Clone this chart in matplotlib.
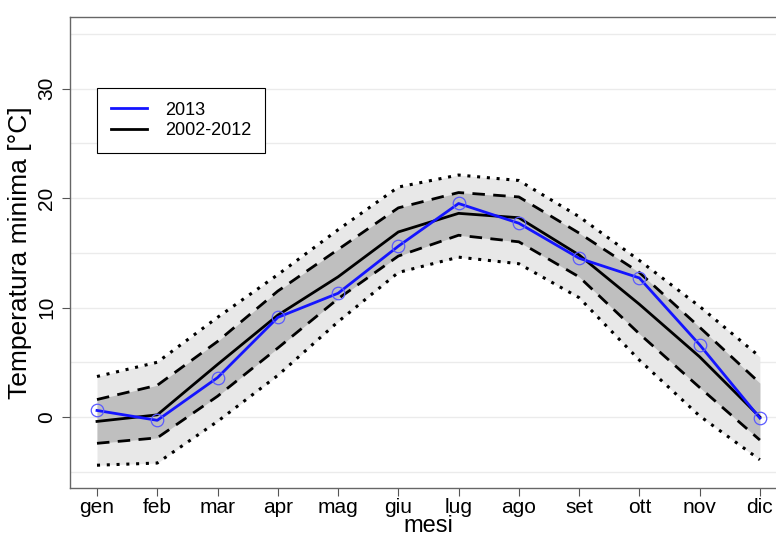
import matplotlib
matplotlib.use("Agg")
import matplotlib.pyplot as plt

plt.rcParams["font.family"] = ["Liberation Sans", "DejaVu Sans"]

# ====================== dati ======================
mesi = ["gen", "feb", "mar", "apr", "mag", "giu", "lug", "ago", "set", "ott", "nov", "dic"]
t2013 = [0.6, -0.3, 3.6, 9.1, 11.3, 15.6, 19.5, 17.7, 14.5, 12.7, 6.6, -0.1]
media = [-0.4, 0.2, 4.8, 9.3, 12.8, 16.9, 18.6, 18.2, 14.8, 10.3, 5.5, 0.0]
sd_sup = [1.6, 2.9, 6.9, 11.5, 15.3, 19.1, 20.5, 20.1, 16.8, 13.2, 8.2, 3.1]
sd_inf = [-2.4, -1.9, 1.9, 6.3, 10.8, 14.7, 16.6, 16.0, 12.8, 7.6, 2.7, -2.1]
t_max = [3.7, 5.0, 9.1, 13.0, 17.1, 21.0, 22.1, 21.6, 18.3, 14.3, 10.1, 5.5]
t_min = [-4.4, -4.2, -0.4, 3.8, 8.7, 13.2, 14.6, 14.0, 10.9, 5.2, 0.1, -3.9]
# ===================================================

x = list(range(1, 13))

fig = plt.figure(figsize=(7.76, 5.37), dpi=100)
ax = fig.add_axes([70 / 776, 49 / 537, 717 / 776, 471 / 537])

# griglia orizzontale ogni 5 gradi
for yg in range(-5, 40, 5):
    ax.axhline(yg, color="#ebebeb", lw=1, zorder=0)

# bande
ax.fill_between(x, t_min, t_max, color="#e8e8e8", lw=0, zorder=1)
ax.fill_between(x, sd_inf, sd_sup, color="#bfbfbf", lw=0, zorder=2)

ax.plot(x, t_max, color="black", lw=2.2, ls=(0, (1, 2.2)), zorder=3)
ax.plot(x, t_min, color="black", lw=2.2, ls=(0, (1, 2.2)), zorder=3)
ax.plot(x, sd_sup, color="black", lw=2, ls=(0, (4.5, 3)), zorder=3)
ax.plot(x, sd_inf, color="black", lw=2, ls=(0, (4.5, 3)), zorder=3)

ax.plot(x, media, color="black", lw=2, zorder=4)
ax.plot(x, t2013, color="#1414ff", lw=2, zorder=5)
ax.plot(x, t2013, ls="none", marker="o", ms=9, mfc="none", mec="#5a5aff", mew=0.9, zorder=6)

# legenda (ordine: 2013, 2002-2012)
h1, = ax.plot([], [], color="#1414ff", lw=2)
h2, = ax.plot([], [], color="black", lw=2)
leg = ax.legend([h1, h2], ["2013", "2002-2012"], loc="upper left",
                bbox_to_anchor=(0.0377, 0.849), fontsize=13, fancybox=False,
                framealpha=1, edgecolor="black", handlelength=2.0,
                handletextpad=1.0, borderpad=0.75, labelspacing=0.2,
                borderaxespad=0)
leg.get_frame().set_linewidth(0.8)

ax.set_xlim(0.552, 12.45)
ax.set_ylim(-6.48, 36.53)
ax.set_xticks(x)
ax.set_xticklabels(mesi)
ax.set_yticks([0, 10, 20, 30])
ax.tick_params(axis="both", labelsize=15, length=6, width=0.8, color="#555555")
ax.tick_params(axis="x", pad=1)
ax.tick_params(axis="y", pad=4)
plt.setp(ax.get_yticklabels(), rotation=90, va="center", ha="right")

for s in ["left", "bottom", "top"]:
    ax.spines[s].set_color("#666666")
    ax.spines[s].set_linewidth(1.0)
ax.spines["right"].set_visible(False)

ax.set_xlabel("mesi", fontsize=17, labelpad=-1)
ax.set_ylabel("Temperatura minima [°C]", fontsize=19, labelpad=4)

fig.savefig("out.png", dpi=100)
